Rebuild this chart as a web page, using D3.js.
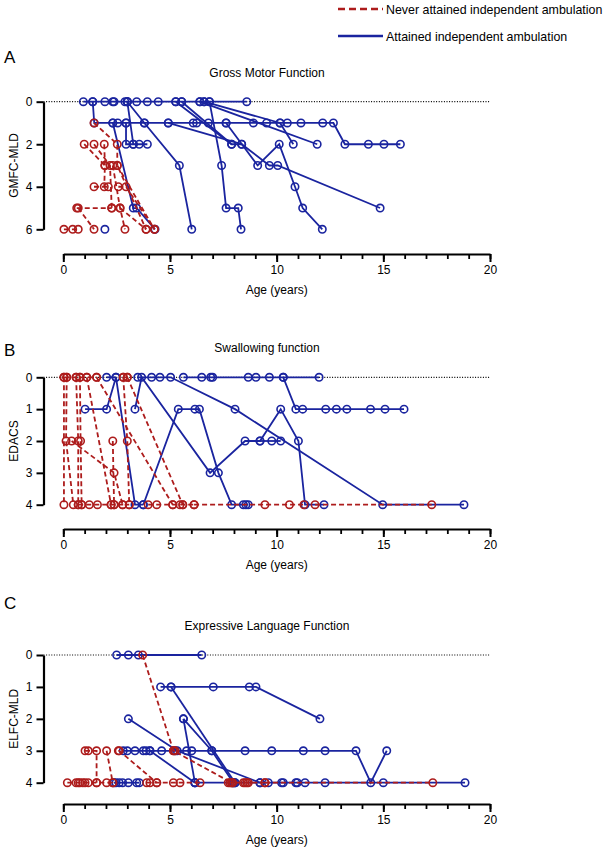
<!DOCTYPE html>
<html>
<head>
<meta charset="utf-8">
<script src="https://cdn.jsdelivr.net/npm/d3@7"></script>
<style>
  body { margin: 0; background: #fff; }
  svg { display: block; font-family: Arial, "Liberation Sans", sans-serif; }
</style>
</head>
<body>
<svg id="chart" width="610" height="849"></svg>
<script>
// ages in years, score per assessment; one array per patient
let xTicks = [0, 5, 10, 15, 20]
let gmfcTicks = [0, 2, 4, 6]
let edacsTicks = [0, 1, 2, 3, 4]
let elfcTicks = [0, 1, 2, 3, 4]

let gmfcAttained = [
  [[0.94,0],[1.38,0],[1.95,0],[2.32,0],[2.38,0],[2.89,0],[3.0,0],[3.44,0],[3.94,0],[4.45,0],[5.27,0],[5.55,0],[6.4,0],[6.6,0],[6.85,0],[8.6,0]],
  [[1.38,0],[1.45,1],[2.32,1],[2.55,1],[2.94,1],[3.8,1],[4.92,1],[6.09,1],[6.25,1],[6.8,1],[7.63,1],[8.91,1],[9.53,1],[10.16,1],[10.5,1],[11.14,1],[12.16,1],[12.66,1],[13.2,2],[14.3,2],[15.03,2],[15.8,2]],
  [[2.32,1],[3.28,5],[3.44,5],[4.3,6]],
  [[2.94,1],[2.94,2],[3.28,2],[3.56,2],[3.94,2]],
  [[3.0,0],[3.28,2]],
  [[3.0,0],[3.8,1],[5.44,3],[6.02,6]],
  [[5.27,0],[7.89,2],[8.36,2],[9.66,3],[10.05,3],[14.85,5]],
  [[5.55,0],[7.89,2]],
  [[4.92,1],[8.36,2]],
  [[6.85,0],[7.42,3],[7.63,5],[8.2,5],[8.33,6]],
  [[7.63,1],[9.11,3],[10.12,2],[10.86,4],[11.22,5],[12.14,6]],
  [[6.6,0],[10.16,1],[10.78,2]],
  [[6.4,0],[11.9,2]],
  [[1.95,6]]
]

let gmfcNever = [
  [[0.03,6],[0.44,6],[0.7,6]],
  [[0.63,5],[2.27,5]],
  [[0.7,5],[1.44,6]],
  [[0.98,2],[1.95,3],[1.92,4]],
  [[1.44,1],[2.53,2],[2.53,3],[3.88,6]],
  [[1.44,2],[2.19,3],[2.27,5]],
  [[1.92,2],[1.95,3]],
  [[2.32,3],[2.66,5],[2.89,6]],
  [[2.53,3],[4.27,6]],
  [[1.44,4],[2.11,4]],
  [[2.58,4],[2.94,4],[4.27,6]],
  [[2.66,5],[3.88,6]]
]

let edacsAttained = [
  [[1.02,1],[2.03,1],[2.47,0],[3.36,4],[3.75,4]],
  [[2.03,0],[2.47,0]],
  [[3.36,1],[3.67,0],[6.88,3],[8.52,2],[9.22,2],[10.19,1],[11.02,2],[11.33,4],[12.22,4]],
  [[3.75,4],[5.39,1],[6.17,1],[6.38,1],[7.27,3],[7.89,4],[8.44,4],[8.56,4],[8.67,4]],
  [[3.49,0],[4.14,0],[4.53,0],[5.03,0],[8.05,1],[14.97,4],[18.78,4]],
  [[5.63,0],[6.49,0],[6.91,0],[7.0,0],[8.67,0],[9.03,0],[9.66,0],[10.31,0],[10.9,1],[11.22,1],[12.3,1],[12.8,1],[13.29,1],[14.4,1],[15.08,1],[15.97,1]],
  [[9.22,2],[9.77,2],[10.19,2]],
  [[10.31,0],[11.99,0]]
]

let edacsNever = [
  [[0.03,0],[0.03,4]],
  [[0.16,0],[0.13,2],[0.47,4]],
  [[0.6,0],[0.7,2],[0.7,4]],
  [[0.78,0],[0.81,2],[0.86,4]],
  [[1.1,0],[2.24,4]],
  [[0.39,2],[2.38,3],[2.78,4]],
  [[1.56,0],[5.13,4]],
  [[2.81,0],[3.0,2],[3.09,4]],
  [[3.0,0],[5.6,4]],
  [[2.32,2],[2.38,4]],
  [[0.03,0],[0.16,0],[0.6,0],[0.78,0],[1.1,0],[1.56,0]],
  [[2.81,0],[3.0,0]],
  [[0.7,4],[0.86,4],[1.22,4],[1.6,4],[2.24,4],[2.38,4],[2.78,4],[3.09,4]],
  [[3.98,4],[4.38,4],[5.13,4],[5.47,4],[5.6,4],[6.13,4]],
  [[6.13,4],[9.45,4],[10.6,4],[11.28,4]],
  [[11.8,4],[17.27,4]]
]

let elfcAttained = [
  [[2.5,0],[3.05,0],[3.52,0],[6.49,0]],
  [[4.56,1],[5.05,1],[7.03,1],[8.72,1],[9.03,1],[12.03,2]],
  [[5.05,1],[8.05,4]],
  [[3.05,2],[5.34,3],[9.22,4]],
  [[5.63,2],[6.17,4]],
  [[5.63,2],[6.96,3],[7.97,4]],
  [[4.06,3],[6.17,4]],
  [[2.81,3],[3.0,3],[3.36,3],[3.75,3],[3.88,3],[4.06,3],[4.61,3],[5.24,3],[5.78,3],[6.02,3],[6.96,3],[8.52,3],[9.77,3],[11.25,3],[12.27,3],[13.72,3],[14.41,4],[15.16,3]],
  [[2.38,4],[2.47,4],[2.62,4],[2.78,4],[3.05,4],[3.44,4],[3.56,4]],
  [[6.17,4],[7.97,4],[8.05,4],[9.22,4],[9.61,4],[10.23,4],[10.31,4],[10.9,4],[10.97,4],[11.33,4],[12.27,4],[15.0,4],[18.83,4]]
]

let elfcNever = [
  [[3.72,0],[5.16,3],[7.89,4]],
  [[1.02,3],[1.17,3],[1.56,3],[1.56,4]],
  [[2.03,3],[2.32,4]],
  [[2.58,3],[2.62,3],[4.38,4]],
  [[5.16,3],[5.24,3]],
  [[0.19,4],[0.6,4],[0.7,4],[0.78,4],[0.91,4],[1.02,4],[1.17,4],[1.56,4],[2.03,4],[2.32,4]],
  [[3.91,4],[4.06,4],[4.38,4],[5.16,4],[5.47,4],[6.41,4]],
  [[7.73,4],[7.81,4],[7.89,4],[7.94,4],[8.44,4],[8.52,4],[8.6,4],[8.67,4],[9.45,4]],
  [[9.45,4],[17.32,4]]
]

let blue = "#1a249f"
let red = "#ad1c1c"

let panels = [
  {letter: "A", title: "Gross Motor Function", yLabel: "GMFC-MLD", yMax: 6, ticks: gmfcTicks,
   attained: gmfcAttained, never: gmfcNever, top: 101.7, bottom: 229.3, axisY: 254, letterY: 57, titleY: 73},
  {letter: "B", title: "Swallowing function", yLabel: "EDACS", yMax: 4, ticks: edacsTicks,
   attained: edacsAttained, never: edacsNever, top: 377.3, bottom: 504.7, axisY: 529, letterY: 350, titleY: 348},
  {letter: "C", title: "Expressive Language Function", yLabel: "ELFC-MLD", yMax: 4, ticks: elfcTicks,
   attained: elfcAttained, never: elfcNever, top: 655, bottom: 782.7, axisY: 804, letterY: 603, titleY: 626}
]

let svg = d3.select("#chart")

let x = d3.scaleLinear().domain([0, 20]).range([63.3, 490])
let yAxisX = 43.5
let fontFamily = "Arial, 'Liberation Sans', sans-serif"

// legend
let legend = svg.append("g")
legend.append("line").attr("x1", 338).attr("x2", 383).attr("y1", 9).attr("y2", 9)
  .attr("stroke", red).attr("stroke-width", 2.6).attr("stroke-dasharray", "7,4")
legend.append("text").attr("x", 386).attr("y", 13.5).attr("font-size", "12.4px").text("Never attained independent ambulation")
legend.append("line").attr("x1", 338).attr("x2", 383).attr("y1", 36).attr("y2", 36)
  .attr("stroke", blue).attr("stroke-width", 2.6)
legend.append("text").attr("x", 386).attr("y", 40.5).attr("font-size", "12.4px").text("Attained independent ambulation")

panels.forEach((p) => {
  let y = d3.scaleLinear().domain([0, p.yMax]).range([p.top, p.bottom])
  let g = svg.append("g")

  g.append("text").attr("x", 4).attr("y", p.letterY + 6).attr("font-size", "17px").text(p.letter)
  g.append("text").attr("x", 267).attr("y", p.titleY + 4).attr("text-anchor", "middle")
    .attr("font-size", "12px").text(p.title)

  // dotted reference line at score 0
  g.append("line").attr("x1", yAxisX).attr("x2", x(20)).attr("y1", y(0)).attr("y2", y(0))
    .attr("stroke", "#000").attr("stroke-width", 1.2).attr("stroke-dasharray", "1,1.6")

  // y axis
  let yAxis = g.append("g").attr("transform", "translate(" + yAxisX + ",0)")
    .call(d3.axisLeft(y).tickValues(p.ticks).tickFormat(d3.format("d"))
      .tickSize(7).tickSizeOuter(0).tickPadding(4))
  yAxis.select(".domain").attr("stroke-width", 2.2)
  yAxis.selectAll(".tick line").attr("stroke-width", 2)
  yAxis.selectAll("text").attr("font-size", "12px").attr("font-family", fontFamily)

  g.append("text").attr("transform", "translate(18," + (p.top + p.bottom) / 2 + ") rotate(-90)")
    .attr("text-anchor", "middle").attr("font-size", "12px").text(p.yLabel)

  // x axis: minor then major ticks
  let minor = g.append("g").attr("transform", "translate(0," + p.axisY + ")")
    .call(d3.axisBottom(x).tickValues(d3.range(0, 21)).tickSize(5).tickSizeOuter(0).tickFormat(""))
  minor.select(".domain").attr("stroke-width", 2.2)
  minor.selectAll(".tick line").attr("stroke-width", 1.8)
  let major = g.append("g").attr("transform", "translate(0," + p.axisY + ")")
    .call(d3.axisBottom(x).tickValues(xTicks).tickSize(8).tickSizeOuter(0).tickPadding(3))
  major.select(".domain").remove()
  major.selectAll(".tick line").attr("stroke-width", 2)
  major.selectAll("text").attr("font-size", "12px").attr("font-family", fontFamily)

  g.append("text").attr("x", 276.7).attr("y", p.axisY + 40).attr("text-anchor", "middle")
    .attr("font-size", "12px").text("Age (years)")

  let line = d3.line().x((d) => x(d[0])).y((d) => y(d[1]))

  let drawGroup = (series, color, dashed) => {
    let grp = g.append("g")
    grp.selectAll("path").data(series).enter().append("path")
      .attr("d", line).attr("fill", "none").attr("stroke", color)
      .attr("stroke-width", 1.8).attr("stroke-dasharray", dashed ? "5,3" : null)
    grp.selectAll("circle").data(series.flat()).enter().append("circle")
      .attr("cx", (d) => x(d[0])).attr("cy", (d) => y(d[1])).attr("r", 3.7)
      .attr("fill", "none").attr("stroke", color).attr("stroke-width", 1.6)
  }
  drawGroup(p.attained, blue, false)
  drawGroup(p.never, red, true)
})
</script>
</body>
</html>
